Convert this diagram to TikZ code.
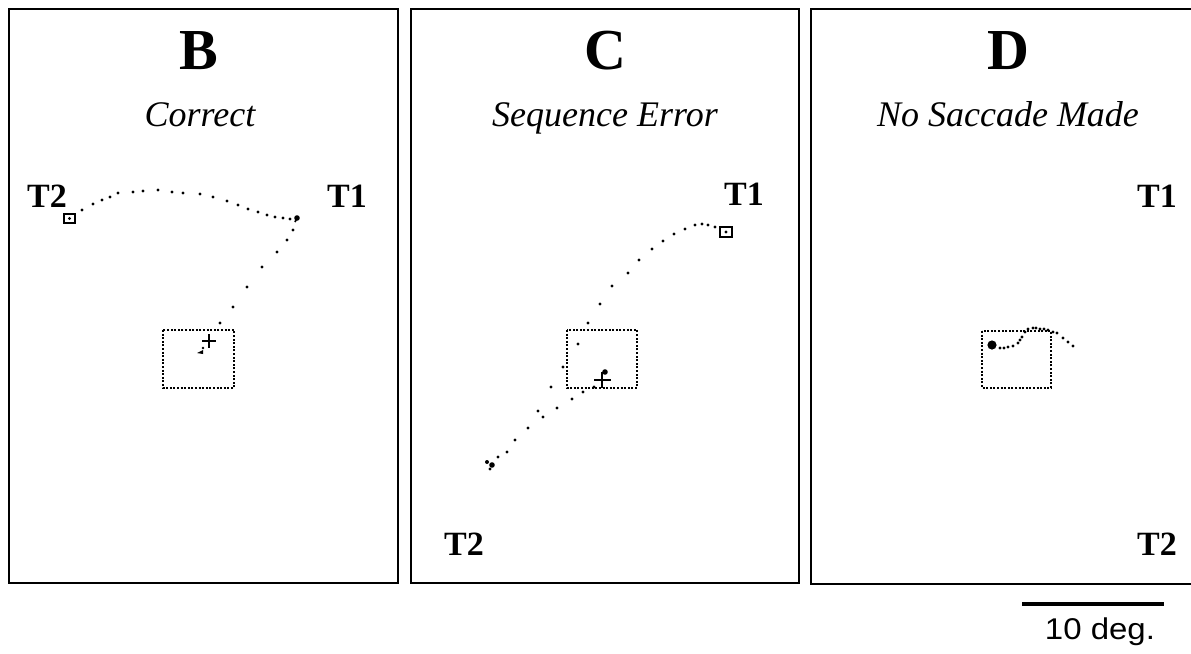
\documentclass[tikz,border=0pt]{standalone}
\usepackage{fontspec}
\setmainfont{Liberation Serif}
\newfontfamily\scalefont{Liberation Sans}
\begin{document}
\begin{tikzpicture}[x=0.5pt,y=-0.5pt,
  frame/.style={line width=1.4pt},
  letter/.style={font=\fontsize{29}{32}\selectfont\bfseries,anchor=base},
  cond/.style={font=\fontsize{18}{20}\selectfont\itshape,anchor=base},
  tlabel/.style={font=\fontsize{17}{19}\selectfont\bfseries},
  fixwin/.style={line width=1pt,dash pattern=on 1pt off 0.8pt},
  target/.style={line width=0.9pt},
]
\useasboundingbox (0,0) rectangle (1191,654);
\clip (0,0) rectangle (1191,654);
% frames
\draw[frame] (9,9) rectangle (398,583);
\draw[frame] (411,9) rectangle (799,583);
\draw[frame] (811,9) rectangle (1210,584);
% titles
\node[letter] (lB) at (199,69) {B};
\node[cond] (cB) at (200,126) {Correct};
\node[letter] (lC) at (605,69) {C};
\node[cond] (cC) at (605,126) {Sequence Error};
\node[letter] (lD) at (1008,69) {D};
\node[cond] (cD) at (1008,126) {No Saccade Made};
% T labels
\node[tlabel] (t2B) at (47,196) {T2};
\node[tlabel] (t1B) at (347,196) {T1};
\node[tlabel] (t1C) at (744,194) {T1};
\node[tlabel] (t2C) at (464,544) {T2};
\node[tlabel] (t1D) at (1157,196) {T1};
\node[tlabel] (t2D) at (1157,544) {T2};
% ---- Panel B ----
\draw[fixwin] (163,330) rectangle (234,388);
\draw[target] (64,214) rectangle (75,223);
\fill (69.5,218.5) circle[radius=0.8pt];
\foreach \p in {(82,210),(93,204),(102,200),(110,197),(118,193),(133,192),(143,191),(158,190),(172,192),(183,193),(200,194),(213,197),(227,201),(238,205),(248,209),(258,212),(267,215),(275,217),(283,218),(290,219),(293,230),(287,240),(277,252),(262,267),(247,287),(233,307),(220,323)}
  \fill \p circle[radius=0.85pt];
\fill (297,218) circle[radius=1.4pt];
\draw[line width=0.8pt] (297,218) -- (295,222);
\draw[line width=1.1pt] (202,341) -- (216,341) (209,334) -- (209,348);
\fill (203,348) circle[radius=0.7pt];
\fill (197,353) -- (203,350) -- (203,354) -- cycle;
% ---- Panel C ----
\draw[fixwin] (567,330) rectangle (637,388);
\draw[target] (720,227) rectangle (732,237);
\fill (726,232) circle[radius=0.8pt];
\foreach \p in {(715,227),(708,225),(702,224),(695,225),(685,229),(674,234),(663,241),(652,249),(639,260),(628,273),(612,286),(600,304),(588,323),(578,344),(563,367),(551,387),(572,399),(583,392),(594,387),(557,408),(543,417),(538,411),(528,428),(515,440),(507,452),(498,457)}
  \fill \p circle[radius=0.85pt];
\fill (492,465) circle[radius=1.4pt];
\fill (487,462) circle[radius=1pt];
\fill (490,469) circle[radius=0.8pt];
\draw[line width=1.3pt] (594,380) -- (611,380) (602,372) -- (602,388);
\fill (605,372) circle[radius=1.4pt];
% ---- Panel D ----
\draw[fixwin] (982,331) rectangle (1051,388);
\fill (992,345) circle[radius=2.3pt];
\foreach \p in {(1000,348),(1004,348),(1008,347),(1013,346),(1018,343),(1020,340),(1022,337),(1025,332),(1028,329),(1033,328),(1036,328),(1040,329),(1044,329),(1048,330),(1053,332),(1057,333),(1063,338),(1068,342),(1073,346)}
  \fill \p circle[radius=0.85pt];
% ---- scale bar ----
\coordinate (sbL) at (1022,604);
\coordinate (sbR) at (1164,604);
\draw[line width=2pt] (sbL) -- (sbR);
\node[font=\scalefont\fontsize{15}{17}\selectfont,anchor=base,xscale=1.1] (sbT) at (1100,639) {10 deg.};
\end{tikzpicture}
\end{document}
